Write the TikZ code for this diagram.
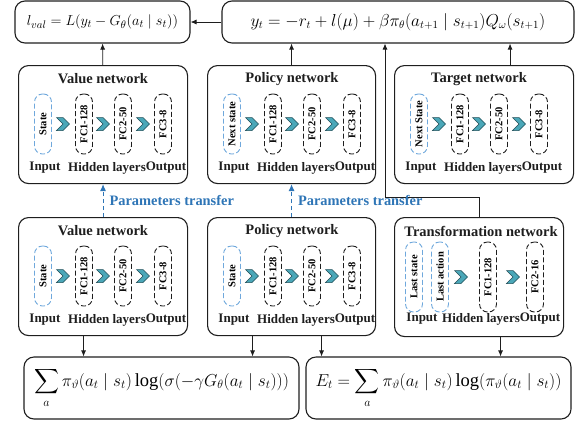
\documentclass[tikz,border=0pt]{standalone}
\usepackage{fontspec}
\setmainfont{Liberation Serif}
\usepackage{amsmath}
\usepackage{graphicx}
\usetikzlibrary{arrows.meta,positioning,shapes.symbols,calc}
\definecolor{ink}{HTML}{1E1E1E}
\definecolor{pblue}{HTML}{2E75B6}
\definecolor{inblue}{HTML}{6FA8DC}
\definecolor{chev}{HTML}{4AA7B8}
\definecolor{chevline}{HTML}{1F4D57}
\tikzset{
  netbox/.style = {rectangle, rounded corners=10pt, draw=ink, line width=1.1pt, minimum height=118pt,
                   inner sep=0pt, anchor=north west},
  eqbox/.style  = {rectangle, rounded corners=10pt, draw=ink, line width=1.1pt, inner sep=0pt,
                   font=\fontsize{16}{19}\selectfont},
  bigeq/.style  = {eqbox, font=\fontsize{18.5}{22}\selectfont},
  ttl/.style    = {font=\fontsize{14.5}{16}\selectfont\bfseries, text=ink, inner sep=0pt},
  lay/.style    = {font=\fontsize{13}{15}\selectfont\bfseries, text=ink, inner sep=0pt},
  pill/.style   = {rectangle, rounded corners=8pt, draw=ink, dash pattern=on 5pt off 2.5pt, line width=0.9pt,
                   minimum width=17pt, minimum height=60pt, inner sep=0pt, font=\fontsize{10.5}{12}\selectfont\bfseries},
  inpill/.style = {pill, draw=inblue},
  chevron/.style= {signal, signal from=west, signal to=east, fill=chev, draw=chevline, line width=0.5pt,
                   minimum width=11pt, minimum height=13pt, inner sep=0pt},
  fl/.style     = {-{Latex[length=6pt,width=5pt]}, line width=0.8pt, draw=ink},
  ptl/.style    = {-{Latex[length=7pt,width=6pt]}, line width=1pt, draw=pblue, dash pattern=on 4pt off 3pt},
  ptlbl/.style  = {font=\fontsize{14.4}{16}\selectfont\bfseries, text=pblue, inner sep=0pt},
  pics/net/.style n args={3}{code={
    \node[netbox, minimum width=#3] (-box) at (0,0) {};
    \node[ttl] (-ttl) at (85,14) {#1};
    \node[inpill] (-in) at (25,59) {\rotatebox{90}{#2}};
    \node[pill] (-fc1) at (66,59) {\rotatebox{90}{FC1-128}};
    \node[pill] (-fc2) at (105,59) {\rotatebox{90}{FC2-50}};
    \node[pill] (-fc3) at (145,59) {\rotatebox{90}{FC3-8}};
    \node[chevron] (-c1) at (45,59) {};
    \node[chevron] (-c2) at (85,59) {};
    \node[chevron] (-c3) at (125,59) {};
    \node[lay] (-lin) at (27,103) {Input};
    \node[lay] (-lhid) at (89,103) {Hidden layers};
    \node[lay] (-lout) at (148,103) {Output};
  }},
}

\begin{document}
\begin{tikzpicture}[x=1pt, y=-1pt]
\useasboundingbox (0,0) rectangle (577,421);
% top formulas
\node[eqbox, minimum width=175, minimum height=42, font=\fontsize{15}{18}\selectfont] (lval) at (102.5,22)
  {$l_{val}=L(y_t-G_\theta(a_t\mid s_t))$};
\node[eqbox, minimum width=352, minimum height=42] (yt) at (398,22)
  {$y_t=-r_t+l(\mu)+\beta\pi_\theta(a_{t+1}\mid s_{t+1})Q_\omega(s_{t+1})$};
% upper networks
\pic (vup) at (18,65) {net={Value network}{State}{169}};
\pic (pup) at (207,65) {net={Policy network}{Next state}{168}};
\pic (tup) at (394,65) {net={Target network}{Next State}{179}};
% lower networks
\pic (vlo) at (18,217) {net={Value network}{State}{169}};
\pic (plo) at (207,217) {net={Policy network}{State}{168}};
% transformation network
\node[netbox, minimum width=169, minimum height=119] (trn) at (394,217) {};
\node[ttl] (trnttl) at (481,231) {Transformation network};
\node[inpill, minimum height=70] (ls) at (414,277) {\rotatebox{90}{Last state}};
\node[inpill, minimum height=70] (la) at (440,277) {\rotatebox{90}{Last action}};
\node[pill, minimum height=70] (tfc1) at (488,277) {\rotatebox{90}{FC1-128}};
\node[pill, minimum height=70] (tfc2) at (535,277) {\rotatebox{90}{FC2-16}};
\node[chevron] (tc1) at (461,277) {};
\node[chevron] (tc2) at (513,277) {};
\node[lay] (tlin) at (422,319) {Input};
\node[lay] (tlhid) at (481,319) {Hidden layers};
\node[lay] (tlout) at (540,319) {Output};
% bottom formulas
\node[bigeq, minimum width=275, minimum height=62] (sumL) at (161.5,388)
  {$\displaystyle\sum_a\pi_\vartheta(a_t\mid s_t)\log(\sigma(-\gamma G_\theta(a_t\mid s_t)))$};
\node[bigeq, minimum width=265, minimum height=62] (ent) at (438.5,388)
  {$E_t=\displaystyle\sum_a\pi_\vartheta(a_t\mid s_t)\log(\pi_\vartheta(a_t\mid s_t))$};
% edges
\draw[fl] (yt) -- (lval);
\draw[fl] (vup-box) -- (lval);
\draw[fl] (pup-box.north) -- (pup-box.north |- yt.south);
\draw[fl] ([xshift=26pt]tup-box.north) -- ([xshift=26pt]tup-box.north |- yt.south);
\coordinate (bend) at (385,197);
\draw[fl] (trn.north) |- (bend) -- (bend |- yt.south);
\draw[ptl] (vlo-box) -- node[ptlbl, right=6pt]{Parameters transfer} (vup-box);
\draw[ptl] (plo-box) -- node[ptlbl, right=6pt]{Parameters transfer} (pup-box);
\draw[fl] ([xshift=-19.5pt]vlo-box.south) -- ([xshift=-19.5pt]vlo-box.south |- sumL.north);
\draw[fl] ([xshift=-39pt]plo-box.south) -- ([xshift=-39pt]plo-box.south |- sumL.north);
\draw[fl] ([xshift=30pt]plo-box.south) -- ([xshift=30pt]plo-box.south |- ent.north);
\draw[fl] ([xshift=21.5pt]trn.south) -- ([xshift=21.5pt]trn.south |- ent.north);
\end{tikzpicture}
\end{document}
